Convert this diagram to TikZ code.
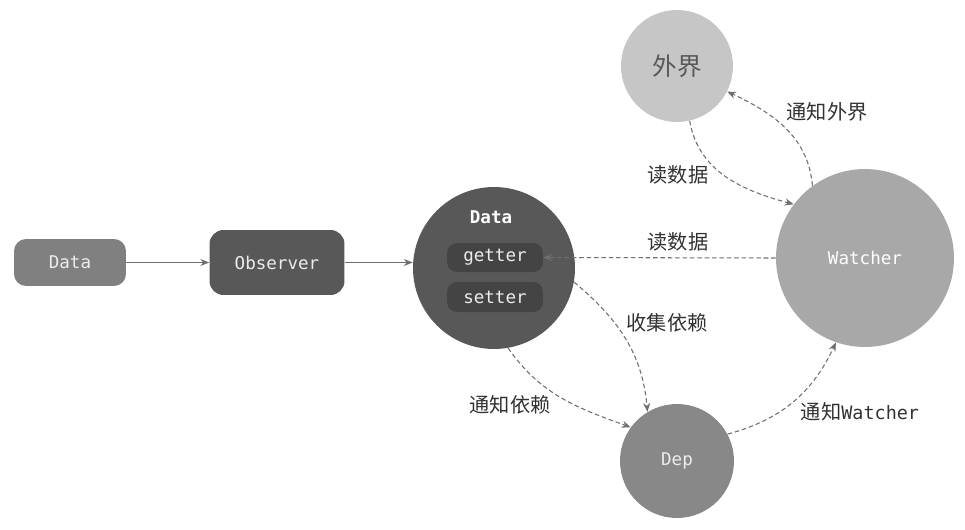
\documentclass[tikz,border=0pt]{standalone}
\usepackage{fontspec}
\setmonofont{DejaVu Sans Mono}
\newfontfamily\cjk{Noto Sans CJK SC}
\usetikzlibrary{arrows.meta}

\definecolor{boxgray}{RGB}{128,128,128}
\definecolor{obsgray}{RGB}{88,88,88}
\definecolor{coregray}{RGB}{88,88,88}
\definecolor{slotgray}{RGB}{68,68,68}
\definecolor{watchgray}{RGB}{168,168,168}
\definecolor{outgray}{RGB}{198,198,198}
\definecolor{depgray}{RGB}{136,136,136}
\definecolor{linegray}{RGB}{110,110,110}
\definecolor{textlight}{RGB}{236,236,236}
\definecolor{notegray}{RGB}{50,50,50}

\begin{document}
\begin{tikzpicture}[x=0.02cm,y=0.02cm,
    mono/.style={font=\ttfamily\fontsize{10}{12}\selectfont, text=textlight},
    box/.style={mono, rounded corners=0.24cm, inner sep=0},
    ball/.style={mono, circle, inner sep=0},
    flow/.style={draw=linegray, line width=0.6pt, -{Stealth[length=5pt,width=4pt]}},
    dashflow/.style={flow, dash pattern=on 2.6pt off 1.6pt},
    note/.style={text=notegray, font=\cjk\fontsize{11.5}{13}\selectfont}]

        \useasboundingbox (0,0) rectangle (965,529);

        % boxes on the left
        \node[box, fill=boxgray, minimum width=2.24cm, minimum height=0.94cm] (databox) at (70,266.5) {Data};
        \node[box, fill=obsgray, rounded corners=0.28cm, minimum width=2.7cm, minimum height=1.3cm] (observer) at (277,266.5) {Observer};

        % the data circle with getter and setter
        \node[ball, fill=coregray, minimum size=3.24cm] (core) at (494,261) {};
        \node[mono, text=white, font=\ttfamily\bfseries\fontsize{10}{12}\selectfont] (corename) at (491,312) {Data};
        \node[box, fill=slotgray, rounded corners=0.2cm, minimum width=1.92cm, minimum height=0.58cm] (getter) at (495,271.5) {getter};
        \node[box, fill=slotgray, rounded corners=0.2cm, minimum width=1.92cm, minimum height=0.6cm] (setter) at (495,232) {setter};

        % the other circles
        \node[ball, fill=outgray, text=obsgray, font=\cjk\fontsize{14}{16}\selectfont, minimum size=2.24cm] (world) at (677,463) {外界};
        \node[ball, fill=watchgray, text=white, minimum size=3.56cm] (watcher) at (865,271) {Watcher};
        \node[ball, fill=depgray, minimum size=2.28cm] (dep) at (677,68) {Dep};

        % solid arrows
        \draw[flow] (databox.east) -- (observer.west);
        \draw[flow] (observer.east) -- (observer.east -| core.west);

        % dashed arrows
        \draw[dashflow] (watcher.west) -- (getter.east);
        \draw[dashflow] (world.-77) to[out=-80, in=165] (watcher.143);
        \draw[dashflow] (watcher.126) to[out=95, in=-25] (world.-27);
        \draw[dashflow] (core.-10) to[out=-40, in=95] (dep.121);
        \draw[dashflow] (core.-80) to[out=-55, in=160] (dep.144);
        \draw[dashflow] (dep.28) to[out=15, in=-115] (watcher.-109);

        % labels of the arrows
        \node[note] (noteworld) at (827,417) {通知外界};
        \node[note] (readtop) at (678,354) {读数据};
        \node[note] (readmid) at (678,287) {读数据};
        \node[note] (collect) at (667,206) {收集依赖};
        \node[note] (notify) at (510,124) {通知依赖};
        \node[note] (notifywatch) at (860,117) {通知\texttt{\fontsize{10.5}{12}\selectfont Watcher}};
    \end{tikzpicture}
\end{document}
